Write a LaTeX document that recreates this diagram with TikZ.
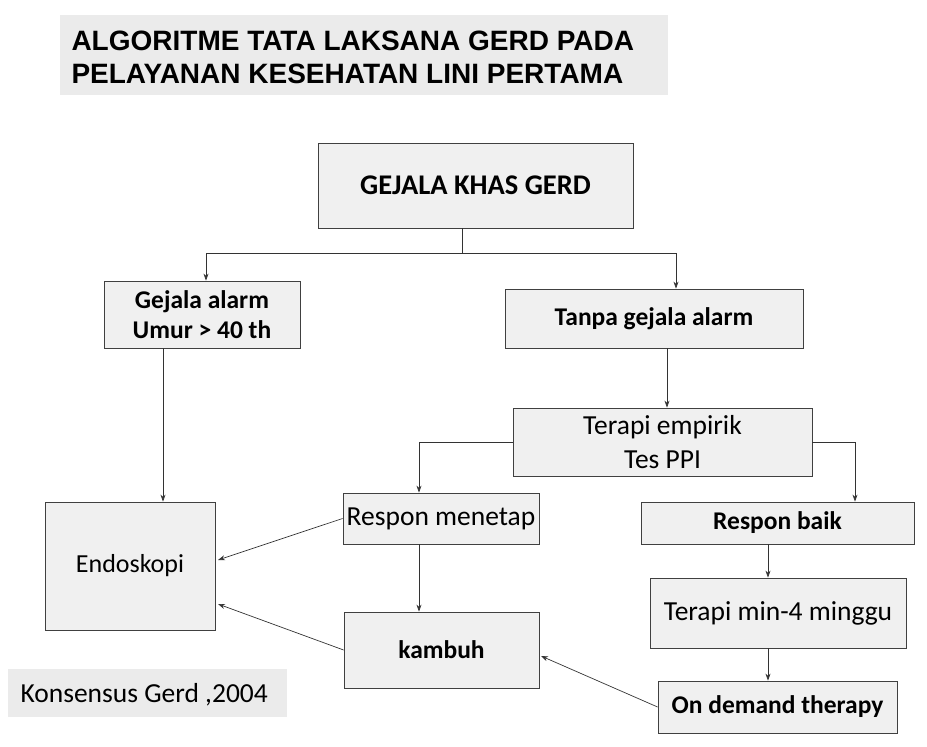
\documentclass[tikz,border=0pt]{standalone}
\usepackage{fontspec}
\setmainfont{Carlito}
\newfontfamily\arialf{Liberation Sans}
\usetikzlibrary{arrows.meta}
\begin{document}
\begin{tikzpicture}[x=1pt,y=-1pt,
 bx/.style={draw=black!75,fill=black!6,line width=0.8pt,inner sep=0pt,align=center},
 ar/.style={-{Stealth[length=7pt,width=5pt]},line width=0.7pt,black!80},
 ln/.style={line width=0.7pt,black!80},
 bf/.style={font=\fontsize{25.5}{30}\selectfont\bfseries},
 nf/.style={font=\fontsize{27.5}{34}\selectfont}]
\useasboundingbox (0,0) rectangle (927,747);
\fill[black!8] (60,15) rectangle (668,95);
\node[anchor=west,font=\arialf\fontsize{28}{33}\selectfont\bfseries,align=left] (title) at (68,57) {ALGORITME TATA LAKSANA GERD PADA\\PELAYANAN KESEHATAN LINI PERTAMA};
\fill[black!8] (8,669) rectangle (287,717);
\node[anchor=west,font=\fontsize{27.5}{32}\selectfont] (kons) at (17,695) {Konsensus Gerd ,2004};
\node[bx,font=\fontsize{28.5}{34}\selectfont\bfseries,minimum width=315pt,minimum height=85pt] (g) at (475.5,185.5) {GEJALA KHAS GERD};
\node[bx,bf,minimum width=196pt,minimum height=67pt] (ga) at (202,314.5) {Gejala alarm\\Umur > 40 th};
\node[bx,bf,minimum width=298pt,minimum height=59pt] (tg) at (654,318.5) {Tanpa gejala alarm};
\node[bx,nf,minimum width=299pt,minimum height=68pt] (te) at (662.5,442) {Terapi empirik\\Tes PPI};
\node[bx,nf,minimum width=196pt,minimum height=51pt] (rm) at (441,518.5) {Respon menetap};
\node[bx,bf,minimum width=273pt,minimum height=42pt] (rb) at (777.5,523) {Respon baik};
\node[bx,font=\fontsize{26}{30}\selectfont,minimum width=170pt,minimum height=128pt] (en) at (130,566) {Endoskopi};
\node[bx,bf,minimum width=195pt,minimum height=76pt] (kb) at (441.5,650) {kambuh};
\node[bx,nf,minimum width=256pt,minimum height=70pt] (tm) at (778,613) {Terapi min-4 minggu};
\node[bx,bf,minimum width=239pt,minimum height=52pt] (od) at (777.5,707) {On demand therapy};
\coordinate (j) at (462,253);
\draw[ln] (g.south -| j) -- (j);
\draw[ar] (j) -| (ga.north -| 206,0);
\draw[ar] (j) -| (tg.north -| 676,0);
\draw[ar] (ga.south -| 163,0) -- (en.north -| 163,0);
\draw[ar] (tg.south -| 667,0) -- (te.north -| 667,0);
\draw[ar] (te.west) -| (rm.north -| 419,0);
\draw[ar] (te.east) -| (rb.north -| 855,0);
\draw[ar] (rm.west) -- (218,560);
\draw[ar] (rm.south -| 419,0) -- (kb.north -| 419,0);
\draw[ar] (kb.west) -- (218,604);
\draw[ar] (rb.south -| 768,0) -- (tm.north -| 768,0);
\draw[ar] (tm.south -| 768,0) -- (od.north -| 768,0);
\draw[ar] (od.west) -- (541,656);
\end{tikzpicture}
\end{document}
